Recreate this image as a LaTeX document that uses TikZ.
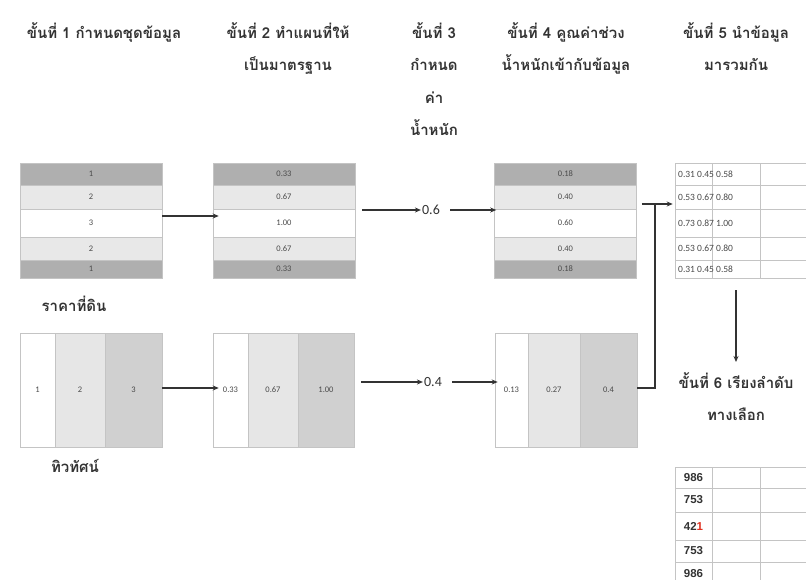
\documentclass[tikz,border=0pt]{standalone}
\usepackage{fontspec}
\setmainfont{Carlito}
\newfontfamily\thaifont[Script=Thai]{Loma}
\newfontfamily\numfont{Carlito}
\newfontfamily\boldnum{Liberation Sans}
\usetikzlibrary{arrows.meta}
\definecolor{dk}{HTML}{AFAFAF}
\definecolor{lt}{HTML}{E8E8E8}
\definecolor{dkb}{HTML}{D0D0D0}
\definecolor{ltb}{HTML}{E6E6E6}
\definecolor{bd}{HTML}{C4C4C4}
\definecolor{txt}{HTML}{333333}
\definecolor{ctxt}{HTML}{4A4A4A}
\definecolor{redd}{HTML}{E0301E}
\begin{document}
\begin{tikzpicture}[x=1pt,y=-1pt,
 head/.style={font=\thaifont\bfseries\fontsize{15}{32.5}\selectfont, text=txt, align=center, anchor=north, inner sep=0pt},
 cellbox/.style={draw=bd, line width=0.6pt, inner sep=0pt, font=\numfont\fontsize{8.5}{9}\selectfont, text=ctxt},
 tw/.style={minimum width=142pt},
 rA/.style={minimum height=22pt},
 rB/.style={minimum height=24pt},
 rC/.style={minimum height=28pt},
 rD/.style={minimum height=23pt},
 rE/.style={minimum height=18pt},
 cA/.style={minimum width=37pt},
 cB/.style={minimum width=48pt},
 cC/.style={minimum width=80pt},
 bcol/.style={minimum height=114pt},
 sumtxt/.style={anchor=west, inner sep=0pt, font=\numfont\fontsize{9.5}{10}\selectfont, text=ctxt},
 ranktxt/.style={font=\boldnum\bfseries\fontsize{11.5}{12}\selectfont, text=txt},
 arr/.style={draw=txt, line width=1.1pt, -{Stealth[length=6pt,width=5pt]}},
 conn/.style={draw=txt, line width=1.1pt},
 wt/.style={font=\numfont\fontsize{14}{16}\selectfont, text=txt, inner sep=1pt}
]
\useasboundingbox[fill=white] (0,0) rectangle (806,580);

% headers
\node[head] (s1) at (104,22) {ขั้นที่ 1 กำหนดชุดข้อมูล};
\node[head] (s2) at (288,22) {ขั้นที่ 2 ทำแผนที่ให้\\เป็นมาตรฐาน};
\node[head] (s3) at (434,22) {ขั้นที่ 3\\กำหนด\\ค่า\\น้ำหนัก};
\node[head] (s4) at (566,22) {ขั้นที่ 4 คูณค่าช่วง\\น้ำหนักเข้ากับข้อมูล};
\node[head] (s5) at (736,22) {ขั้นที่ 5 นำข้อมูล\\มารวมกัน};
\node[head] (s6) at (736,372) {ขั้นที่ 6 เรียงลำดับ\\ทางเลือก};
\node[head] (lab1) at (74,296) {ราคาที่ดิน};
\node[head] (lab2) at (75,459) {ทิวทัศน์};

% table 1 (top)
\node[cellbox,tw,rA,fill=dk] (a1) at (91,174) {1};
\node[cellbox,tw,rB,fill=lt] (a2) at (91,197) {2};
\node[cellbox,tw,rC,fill=white] (a3) at (91,223) {3};
\node[cellbox,tw,rD,fill=lt] (a4) at (91,248.5) {2};
\node[cellbox,tw,rE,fill=dk] (a5) at (91,269) {1};
% table 2 (top)
\node[cellbox,tw,rA,fill=dk] (b1) at (284,174) {0.33};
\node[cellbox,tw,rB,fill=lt] (b2) at (284,197) {0.67};
\node[cellbox,tw,rC,fill=white] (b3) at (284,223) {1.00};
\node[cellbox,tw,rD,fill=lt] (b4) at (284,248.5) {0.67};
\node[cellbox,tw,rE,fill=dk] (b5) at (284,269) {0.33};
% table 4 (top)
\node[cellbox,tw,rA,fill=dk] (d1) at (565.5,174) {0.18};
\node[cellbox,tw,rB,fill=lt] (d2) at (565.5,197) {0.40};
\node[cellbox,tw,rC,fill=white] (d3) at (565.5,223) {0.60};
\node[cellbox,tw,rD,fill=lt] (d4) at (565.5,248.5) {0.40};
\node[cellbox,tw,rE,fill=dk] (d5) at (565.5,269) {0.18};

% table 5
\foreach \r/\y/\h in {1/174/rA,2/197/rB,3/223/rC,4/248.5/rD,5/269/rE}{
  \node[cellbox,cA,\h] (e\r a) at (693.5,\y) {};
  \node[cellbox,cB,\h] (e\r b) at (736,\y) {};
  \node[cellbox,cC,\h] (e\r c) at (800,\y) {};
}
\node[sumtxt] (e1t) at (678,174) {0.31 0.45 0.58};
\node[sumtxt] (e2t) at (678,197) {0.53 0.67 0.80};
\node[sumtxt] (e3t) at (678,223) {0.73 0.87 1.00};
\node[sumtxt] (e4t) at (678,248.5) {0.53 0.67 0.80};
\node[sumtxt] (e5t) at (678,269) {0.31 0.45 0.58};

% table 6
\foreach \r/\y/\h in {1/477.5/21pt,2/500/24pt,3/526/28pt,4/551/22pt,5/574/24pt}{
  \node[cellbox,cA,minimum height=\h] (f\r a) at (693.5,\y) {};
  \node[cellbox,cB,minimum height=\h] (f\r b) at (736,\y) {};
  \node[cellbox,cC,minimum height=\h] (f\r c) at (800,\y) {};
}
\node[ranktxt] (f1t) at (f1a) {986};
\node[ranktxt] (f2t) at (f2a) {753};
\node[ranktxt] (f3t) at (f3a) {42\textcolor{redd}{1}};
\node[ranktxt] (f4t) at (f4a) {753};
\node[ranktxt] (f5t) at (f5a) {986};

% bottom tables
\node[cellbox,bcol,minimum width=35pt,fill=white] (p1) at (37.5,390) {1};
\node[cellbox,bcol,minimum width=50pt,fill=ltb] (p2) at (80,390) {2};
\node[cellbox,bcol,minimum width=57pt,fill=dkb] (p3) at (133.5,390) {3};
\node[cellbox,bcol,minimum width=35pt,fill=white] (q1) at (230.5,390) {0.33};
\node[cellbox,bcol,minimum width=50pt,fill=ltb] (q2) at (273,390) {0.67};
\node[cellbox,bcol,minimum width=56pt,fill=dkb] (q3) at (326,390) {1.00};
\node[cellbox,bcol,minimum width=33pt,fill=white] (r1) at (511.5,390) {0.13};
\node[cellbox,bcol,minimum width=52pt,fill=ltb] (r2) at (554,390) {0.27};
\node[cellbox,bcol,minimum width=57pt,fill=dkb] (r3) at (608.5,390) {0.4};

% weights
\node[wt] (w6) at (431,210) {0.6};
\node[wt] (w4) at (433,382) {0.4};

% connectors top
\draw[arr, shorten >=-6pt] ([yshift=7pt]a3.east) -- ([yshift=7pt]b3.west);
\draw[arr, shorten <=7pt] (b3.east |- w6.west) -- (w6.west);
\draw[arr, shorten <=9pt, shorten >=-2pt] (w6.east) -- (w6.east -| d3.west);
\coordinate (jn) at (655,204);
\draw[arr, shorten <=5pt, shorten >=2pt] (d2.east |- jn) -- (jn -| e2a.west);
% connectors bottom
\draw[arr, shorten >=-6pt] ([yshift=2pt]p3.east) -- ([yshift=2pt]q1.west);
\draw[arr, shorten <=7pt] (q3.east |- w4.west) -- (w4.west);
\draw[arr, shorten <=9pt, shorten >=-3pt] (w4.east) -- (w4.east -| r1.west);
\draw[conn] ([yshift=2pt]r3.east) -| (jn);
% step 5 to step 6
\draw[arr, shorten <=12pt, shorten >=10pt] (e5b.south) -- (s6.north);
\end{tikzpicture}
\end{document}
